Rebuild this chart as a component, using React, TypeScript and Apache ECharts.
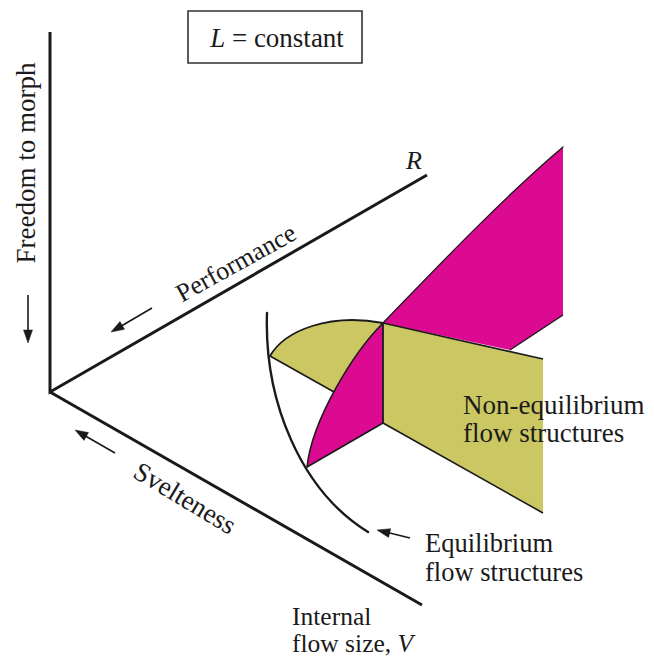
import React, { useEffect, useRef } from "react";
import * as echarts from "echarts";

const WIDTH = 654;
const HEIGHT = 657;

// Axes of the diagram (in picture units)
const axisOrigin = [50, 392];
const morphAxisTop = [50, 32];
const performanceAxisEnd = [427, 175];
const sveltenessAxisEnd = [422, 605];

// "L = constant" box [x0, y0, x1, y1]
const constantBox = [188, 11, 362, 63];

// Equilibrium curve: cubic bezier control points
const equilibriumCurve = [[267, 313], [264, 400], [300, 490], [368, 532]];

// Shape vertices
const junction = [383, 323];
const junctionFoot = [383, 423];
const magentaLowerCurve = [[307, 467], [312, 420], [353, 353], [383, 323]];
const magentaUpperCurve = [[383, 323], [420, 285], [500, 200], [563, 147]];
const magentaPanelRest = [[563, 315], [510, 350]];
const oliveRightPanel = [[383, 323], [543, 359], [543, 513], [383, 423]];
const oliveLeftArc = [[270, 356], [285, 330], [330, 313], [383, 323]];
const oliveLeftCorner = [334, 392];

// Arrows: [from, tip]
const arrowMorph = [[28, 295], [28, 343]];
const arrowPerformance = [[152, 308], [111, 332]];
const arrowSvelteness = [[115, 453], [75, 430]];
const arrowEquilibrium = [[410, 538], [377, 530]];

// Labels
const labelTexts = {
  constant: "{i|L} = constant",
  morph: "Freedom to morph",
  performance: "Performance",
  r: "R",
  svelteness: "Svelteness",
  internal1: "Internal",
  internal2: "flow size, {i|V}",
  eq1: "Equilibrium",
  eq2: "flow structures",
  neq1: "Non-equilibrium",
  neq2: "flow structures",
};

const MAGENTA = "#dc0a91";
const OLIVE = "#cbc763";
const INK = "#1a1a1a";
const FONT = "'Liberation Serif', 'Times New Roman', serif";

export default function App() {
  const ref = useRef<HTMLDivElement>(null);

  useEffect(() => {
    if (!ref.current) return;
    const chart = echarts.init(ref.current, null, { renderer: "svg" });

    const renderItem = (params: any, api: any) => {
      const c = (pt: number[]) => api.coord(pt);
      const P = (pt: number[]) => {
        const q = c(pt);
        return q[0].toFixed(2) + " " + q[1].toFixed(2);
      };
      const bez = (cv: number[][]) => "C " + P(cv[1]) + " " + P(cv[2]) + " " + P(cv[3]);
      const children: any[] = [];

      const fillPath = (d: string, fill: string) =>
        children.push({ type: "path", shape: { pathData: d }, style: { fill, stroke: "none" } });
      const strokePath = (d: string, w: number) =>
        children.push({ type: "path", shape: { pathData: d }, style: { fill: "none", stroke: INK, lineWidth: w, lineCap: "round", lineJoin: "round" } });
      const line = (a: number[], b: number[], w: number) => {
        const p1 = c(a), p2 = c(b);
        children.push({ type: "line", shape: { x1: p1[0], y1: p1[1], x2: p2[0], y2: p2[1] }, style: { stroke: INK, lineWidth: w, lineCap: "butt" } });
      };
      const arrow = (ar: number[][]) => {
        const a = c(ar[0]), t = c(ar[1]);
        const dx = t[0] - a[0], dy = t[1] - a[1];
        const len = Math.sqrt(dx * dx + dy * dy);
        const ux = dx / len, uy = dy / len;
        const hl = 13, hw = 4.5;
        const bx = t[0] - ux * hl, by = t[1] - uy * hl;
        children.push({ type: "line", shape: { x1: a[0], y1: a[1], x2: bx + ux * 2, y2: by + uy * 2 }, style: { stroke: INK, lineWidth: 1.6 } });
        children.push({
          type: "polygon",
          shape: { points: [[t[0], t[1]], [bx - uy * hw, by + ux * hw], [bx + uy * hw, by - ux * hw]] },
          style: { fill: INK, stroke: INK, lineWidth: 0.5 },
        });
      };
      const text = (pt: number[], str: string, opts: any) => {
        const q = c(pt);
        const fs = opts.fontSize || 27;
        children.push({
          type: "text",
          x: q[0],
          y: q[1],
          rotation: opts.rotation || 0,
          style: {
            text: str,
            fill: INK,
            fontSize: fs,
            fontFamily: FONT,
            fontStyle: opts.italic ? "italic" : "normal",
            align: opts.align || "left",
            verticalAlign: "middle",
            rich: { i: { fontStyle: "italic", fontSize: fs, fontFamily: FONT, fill: INK } },
          },
        });
      };

      // --- filled surfaces ---
      fillPath("M " + P(oliveLeftArc[0]) + " " + bez(oliveLeftArc) + " L " + P(oliveLeftCorner) + " Z", OLIVE);
      fillPath(
        "M " + P(magentaUpperCurve[0]) + " " + bez(magentaUpperCurve) + " L " + P(magentaPanelRest[0]) + " L " + P(magentaPanelRest[1]) + " Z",
        MAGENTA
      );
      fillPath("M " + oliveRightPanel.map(P).join(" L ") + " Z", OLIVE);
      fillPath(
        "M " + P(junction) + " L " + P(junctionFoot) + " L " + P(magentaLowerCurve[0]) + " " + bez(magentaLowerCurve) + " Z",
        MAGENTA
      );

      // --- edges ---
      strokePath("M " + P(oliveLeftArc[0]) + " " + bez(oliveLeftArc), 1.8);
      line(oliveLeftArc[0], oliveLeftCorner, 1.6);
      strokePath("M " + P(magentaUpperCurve[0]) + " " + bez(magentaUpperCurve), 1.3);
      line(magentaPanelRest[1], magentaPanelRest[0], 1.4);
      line(oliveRightPanel[0], oliveRightPanel[1], 1.6);
      line(oliveRightPanel[3], oliveRightPanel[2], 1.6);
      line(junction, junctionFoot, 1.8);
      line(junctionFoot, magentaLowerCurve[0], 1.6);
      strokePath("M " + P(magentaLowerCurve[0]) + " " + bez(magentaLowerCurve), 1.6);

      // Equilibrium curve
      strokePath("M " + P(equilibriumCurve[0]) + " " + bez(equilibriumCurve), 2.4);

      // --- axes ---
      const o = c(axisOrigin);
      const top = c(morphAxisTop);
      const pe = c(performanceAxisEnd);
      const se = c(sveltenessAxisEnd);
      children.push({
        type: "polyline",
        shape: { points: [[top[0], top[1]], [o[0], o[1]], [pe[0], pe[1]]] },
        style: { fill: "none", stroke: INK, lineWidth: 3, lineJoin: "miter" },
      });
      children.push({
        type: "polyline",
        shape: { points: [[o[0], o[1]], [se[0], se[1]]] },
        style: { fill: "none", stroke: INK, lineWidth: 3 },
      });

      // --- box ---
      const b0 = c([constantBox[0], constantBox[1]]);
      const b1 = c([constantBox[2], constantBox[3]]);
      children.push({
        type: "rect",
        shape: { x: b0[0], y: b0[1], width: b1[0] - b0[0], height: b1[1] - b0[1] },
        style: { fill: "none", stroke: "#333", lineWidth: 1.6 },
      });

      // --- arrows ---
      arrow(arrowMorph);
      arrow(arrowPerformance);
      arrow(arrowSvelteness);
      arrow(arrowEquilibrium);

      // --- texts ---
      text([277, 38], labelTexts.constant, { align: "center", fontSize: 27 });
      text([26, 163], labelTexts.morph, { align: "center", rotation: Math.PI / 2, fontSize: 27 });
      text([236, 263], labelTexts.performance, { align: "center", rotation: (29 * Math.PI) / 180, fontSize: 26 });
      text([414, 160], labelTexts.r, { align: "center", italic: true, fontSize: 26 });
      text([185, 498], labelTexts.svelteness, { align: "center", rotation: (-31 * Math.PI) / 180, fontSize: 27 });
      text([292, 616], labelTexts.internal1, { fontSize: 25.5 });
      text([292, 643], labelTexts.internal2, { fontSize: 25.5 });
      text([425, 543], labelTexts.eq1, { fontSize: 26.5 });
      text([425, 572], labelTexts.eq2, { fontSize: 26.5 });
      text([463, 405], labelTexts.neq1, { fontSize: 27 });
      text([463, 433], labelTexts.neq2, { fontSize: 27 });

      return { type: "group", children };
    };

    chart.setOption({
      animation: false,
      backgroundColor: "#ffffff",
      grid: { left: 0, top: 0, right: 0, bottom: 0 },
      xAxis: { type: "value", min: 0, max: WIDTH, show: false },
      yAxis: { type: "value", min: 0, max: HEIGHT, inverse: true, show: false },
      series: [
        {
          type: "custom",
          clip: false,
          silent: true,
          data: [[0, 0]],
          renderItem,
        },
      ],
    });

    return () => chart.dispose();
  }, []);

  return (
    <div
      ref={ref}
      style={{ position: "fixed", left: 0, top: 0, width: WIDTH, height: HEIGHT, background: "#fff" }}
    />
  );
}
